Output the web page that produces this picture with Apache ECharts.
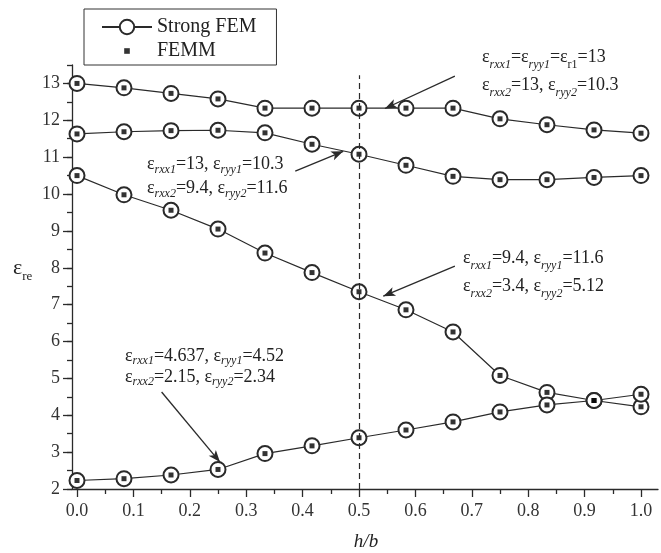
<!DOCTYPE html>
<html>
<head>
<meta charset="utf-8">
<script src="https://cdn.jsdelivr.net/npm/echarts@6/dist/echarts.min.js"></script>
<style>html,body{margin:0;padding:0;background:#fff;}#c{width:661px;height:553px;}</style>
</head>
<body>
<div id="c"></div>
<script>
// ---- data ----
const hb = [0, 0.0833, 0.1667, 0.25, 0.3333, 0.4167, 0.5, 0.5833, 0.6667, 0.75, 0.8333, 0.9167, 1.0];
const curve1 = [13.00, 12.88, 12.73, 12.58, 12.33, 12.33, 12.33, 12.33, 12.33, 12.04, 11.88, 11.74, 11.65];
const curve2 = [11.63, 11.69, 11.72, 11.73, 11.66, 11.35, 11.08, 10.78, 10.48, 10.39, 10.39, 10.45, 10.50];
const curve3 = [10.50, 9.98, 9.56, 9.05, 8.40, 7.87, 7.35, 6.86, 6.26, 5.08, 4.62, 4.40, 4.23];
const curve4 = [2.23, 2.28, 2.38, 2.53, 2.96, 3.17, 3.39, 3.60, 3.82, 4.09, 4.28, 4.40, 4.57];
const femm1 = curve1.slice();
const femm2 = curve2.slice();
const femm3 = curve3.slice();
const femm4 = curve4.slice();
const yTickLabels = [2, 3, 4, 5, 6, 7, 8, 9, 10, 11, 12, 13];
const seriesNames = ['Strong FEM', 'FEMM'];
const vLineX = 0.5;
// annotation arrows: [tail, head] in data coords
const arrows = [
  [[0.670, 13.20], [0.546, 12.32]],
  [[0.387, 10.62], [0.472, 11.16]],
  [[0.670, 8.045], [0.543, 7.23]],
  [[0.150, 4.63], [0.2535, 2.73]]
];

const F = "'Liberation Serif','Times New Roman',serif";
const INK = '#2a2a2a';
const pair = (ys) => hb.map((x, i) => [x, ys[i]]);

function lineSeries(ys) {
  return {
    name: seriesNames[0], type: 'line', xAxisIndex: 1, yAxisIndex: 2,
    data: pair(ys), symbol: 'emptyCircle', symbolSize: 15, showSymbol: true, showAllSymbol: true,
    lineStyle: {color: INK, width: 1.2},
    itemStyle: {color: INK, borderWidth: 1.3},
    emphasis: {disabled: true}, animation: false, z: 2
  };
}
function femmSeries(ys) {
  return {
    name: seriesNames[1], type: 'scatter', xAxisIndex: 1, yAxisIndex: 2,
    data: pair(ys), symbol: 'rect', symbolSize: 5,
    itemStyle: {color: '#000'}, emphasis: {disabled: true}, animation: false, z: 3
  };
}

function ann(x, top, L, text) {
  return {
    type: 'text', x: x, y: top, z: 10,
    style: {
      text: text, fill: '#222', align: 'left', verticalAlign: 'top',
      rich: {
        m: {fontSize: 18, fontFamily: F, fill: '#222', lineHeight: L},
        s: {fontSize: 12, fontFamily: F, fontStyle: 'italic', fill: '#222', lineHeight: Math.max(L - 18, 2), verticalAlign: 'bottom'},
        u: {fontSize: 12, fontFamily: F, fill: '#222', lineHeight: Math.max(L - 18, 2), verticalAlign: 'bottom'}
      }
    }
  };
}

const chart = echarts.init(document.getElementById('c'), null, {renderer: 'canvas'});
const option = {
  backgroundColor: '#fff',
  animation: false,
  grid: [
    {left: 72, top: 65, width: 586, height: 424},
    {left: 77, top: 65, width: 564, height: 424}
  ],
  xAxis: [
    {gridIndex: 0, type: 'value', min: 0, max: 1, position: 'bottom',
     axisLine: {show: true, lineStyle: {color: INK, width: 1.3}},
     axisTick: {show: false}, axisLabel: {show: false}, splitLine: {show: false}},
    {gridIndex: 1, type: 'value', min: 0, max: 1, interval: 0.1, position: 'bottom',
     axisLine: {show: false},
     axisTick: {show: true, inside: false, length: 8, lineStyle: {color: INK, width: 1.3}},
     minorTick: {show: true, splitNumber: 2, length: 5, lineStyle: {color: INK, width: 1.3}},
     axisLabel: {show: true, margin: 13, fontSize: 18, fontFamily: F, color: '#333', formatter: v => v.toFixed(1)},
     splitLine: {show: false}, minorSplitLine: {show: false}}
  ],
  yAxis: [
    {gridIndex: 0, type: 'value', min: 2, max: 13.5, interval: 1, position: 'left',
     axisLine: {show: true, lineStyle: {color: INK, width: 1.3}},
     axisTick: {show: true, inside: false, length: 9, customValues: yTickLabels, lineStyle: {color: INK, width: 1.3}},
     axisLabel: {show: true, margin: 12, fontSize: 18, fontFamily: F, color: '#333', customValues: yTickLabels},
     splitLine: {show: false}},
    {gridIndex: 0, type: 'value', min: 2, max: 13.5, interval: 0.5, position: 'left', offset: 0,
     axisLine: {show: false, onZero: false},
     axisTick: {show: true, inside: false, length: 5, lineStyle: {color: INK, width: 1.3}},
     axisLabel: {show: false}, splitLine: {show: false}},
    {gridIndex: 1, type: 'value', min: 2, max: 13.5, show: false, splitLine: {show: false}}
  ],
  legend: {
    left: 84, top: 9, orient: 'vertical',
    padding: [8, 20, 4, 17], itemGap: 4,
    itemWidth: 50, itemHeight: 18,
    borderColor: '#333', borderWidth: 1,
    textStyle: {fontSize: 20, fontFamily: F, color: '#222'},
    selectedMode: false,
    data: [
      {name: seriesNames[0]},
      {name: seriesNames[1], icon: 'path://M0,0M16,16M5.5,5.5L10.5,5.5L10.5,10.5L5.5,10.5Z'}
    ]
  },
  series: [
    lineSeries(curve1), lineSeries(curve2), lineSeries(curve3), lineSeries(curve4),
    femmSeries(femm1), femmSeries(femm2), femmSeries(femm3), femmSeries(femm4),
    {
      type: 'line', xAxisIndex: 1, yAxisIndex: 2, data: [], silent: true,
      markLine: {
        silent: true, animation: false, symbol: ['none', 'none'],
        label: {show: false},
        lineStyle: {color: INK, width: 1.2, type: [6, 4]},
        data: [[{coord: [vLineX, 2]}, {coord: [vLineX, 13.22]}]]
      }
    },
    {
      type: 'line', xAxisIndex: 1, yAxisIndex: 2, data: [], silent: true,
      markLine: {
        silent: true, animation: false, symbol: ['none', 'arrow'], symbolSize: [7, 12],
        label: {show: false},
        lineStyle: {color: INK, width: 1.3, type: 'solid'},
        data: arrows.map(a => [{coord: a[0]}, {coord: a[1]}])
      }
    }
  ],
  graphic: [
    ann(482, 43, 28, '{m|ε}{s|rxx1}{m|=ε}{s|ryy1}{m|=ε}{u|r1}{m|=13}\n{m|ε}{s|rxx2}{m|=13, ε}{s|ryy2}{m|=10.3}'),
    ann(147, 152, 24, '{m|ε}{s|rxx1}{m|=13, ε}{s|ryy1}{m|=10.3}\n{m|ε}{s|rxx2}{m|=9.4, ε}{s|ryy2}{m|=11.6}'),
    ann(463, 244, 28, '{m|ε}{s|rxx1}{m|=9.4, ε}{s|ryy1}{m|=11.6}\n{m|ε}{s|rxx2}{m|=3.4, ε}{s|ryy2}{m|=5.12}'),
    ann(125, 346, 21, '{m|ε}{s|rxx1}{m|=4.637, ε}{s|ryy1}{m|=4.52}\n{m|ε}{s|rxx2}{m|=2.15, ε}{s|ryy2}{m|=2.34}'),
    {
      type: 'text', x: 13, y: 253, z: 10,
      style: {
        text: '{e|ε}{r|re}', align: 'left', verticalAlign: 'top',
        rich: {
          e: {fontSize: 22, fontFamily: F, fill: '#222', lineHeight: 30},
          r: {fontSize: 13, fontFamily: F, fill: '#222', lineHeight: 6, verticalAlign: 'bottom'}
        }
      }
    },
    {
      type: 'text', x: 366, y: 542, z: 10,
      style: {text: 'h/b', fontSize: 19, fontStyle: 'italic', fontFamily: F, fill: '#222', align: 'center', verticalAlign: 'middle'}
    }
  ]
};
chart.setOption(option);
</script>
</body>
</html>
